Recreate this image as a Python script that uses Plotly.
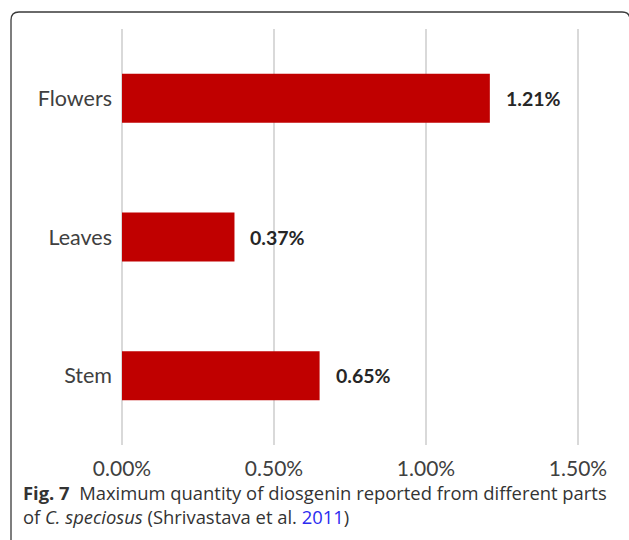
import plotly.graph_objects as go

# Diosgenin content (%) by plant part
parts = ["Stem", "Leaves", "Flowers"]
diosgenin = [0.65, 0.37, 1.21]
value_labels = ["0.65%", "0.37%", "1.21%"]
tick_vals = [0.0, 0.5, 1.0, 1.5]
tick_text = ["0.00%", "0.50%", "1.00%", "1.50%"]

caption_lines = [
    "<b>Fig. 7</b>  Maximum quantity of diosgenin reported from different parts",
    "of <i>C. speciosus</i> (Shrivastava et al. <span style='color:#2b2bf0'>2011</span>)",
]

W, H = 629, 540
L, R, T, B = 118, 21, 29, 95
plot_w = W - L - R
plot_h = H - T - B
px_per_unit = 304.0
x_range = [-(4 / px_per_unit), -(4 / px_per_unit) + plot_w / px_per_unit]


def px_to_paper(px, py):
    return (px - L) / plot_w, (H - B - py) / plot_h


fig = go.Figure()
fig.add_trace(go.Bar(
    y=parts,
    x=diosgenin,
    orientation="h",
    width=0.353,
    marker=dict(color="#C00000", line=dict(width=0)),
    hoverinfo="skip",
))

# value labels to the right of each bar
for part, val, txt in zip(parts, diosgenin, value_labels):
    fig.add_annotation(
        x=val, y=part, text=f"<b>{txt}</b>", showarrow=False,
        xanchor="left", yanchor="middle", xshift=14,
        font=dict(family="Lato", size=19.5, color="#262626"),
    )

# figure caption below the chart
cx, cy = px_to_paper(22, 479)
fig.add_annotation(
    xref="paper", yref="paper", x=cx, y=cy, xanchor="left", yanchor="top",
    align="left", showarrow=False, borderpad=0,
    text="<br>".join(caption_lines),
    font=dict(family="Open Sans", size=18.4, color="#333333"),
)

# rounded frame around the figure panel
x0, y0 = px_to_paper(11, 12)
xr, _ = px_to_paper(630, 12)
_, yb = px_to_paper(11, 560)
rx = 8 / plot_w
ry = 8 / plot_h
path = (f"M {x0} {yb} L {x0} {y0 - ry} Q {x0} {y0} {x0 + rx} {y0} "
        f"L {xr - rx} {y0} Q {xr} {y0} {xr} {y0 - ry} L {xr} {yb}")
fig.add_shape(type="path", xref="paper", yref="paper", path=path,
              line=dict(color="#3a3a3a", width=1.3), layer="above")

fig.update_layout(
    width=W, height=H,
    margin=dict(l=L, r=R, t=T, b=B, pad=0),
    paper_bgcolor="white", plot_bgcolor="white",
    showlegend=False,
    font=dict(family="Lato", size=18, color="#404040"),
    xaxis=dict(
        range=x_range, tickvals=tick_vals, ticktext=tick_text,
        showgrid=True, gridcolor="#d9d9d9", gridwidth=1.5,
        zeroline=False, showline=False, ticks="",
        tickfont=dict(family="Lato", size=21, color="#404040"),
        ticklabelstandoff=9,
    ),
    yaxis=dict(
        categoryorder="array", categoryarray=parts,
        range=[-0.5, 2.5], showgrid=False, zeroline=False, showline=False,
        ticks="", tickfont=dict(family="Lato", size=21.5, color="#404040"),
        ticklabelstandoff=5,
    ),
)

fig.write_html("out.html")
